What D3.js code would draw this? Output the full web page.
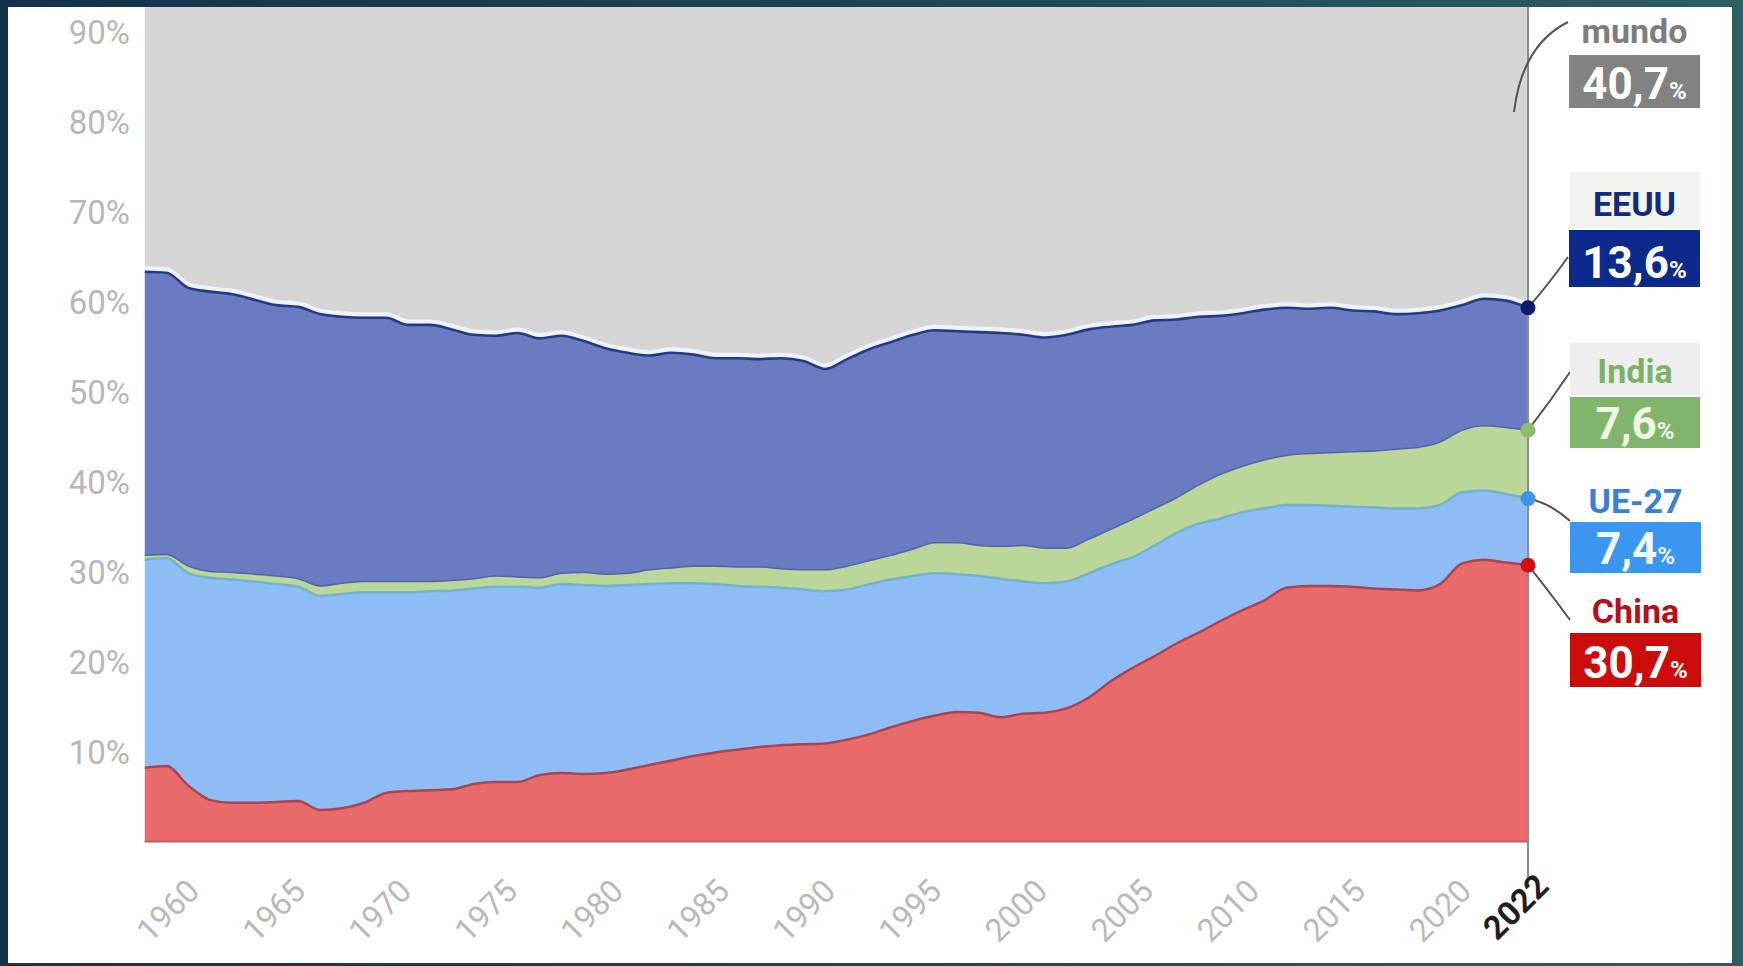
<!DOCTYPE html>
<html><head><meta charset="utf-8">
<script src="https://cdn.jsdelivr.net/npm/d3@7"></script>
<style>html,body{margin:0;padding:0;overflow:hidden;background:#1b4050}</style>
</head><body>
<svg id="c" width="1743" height="966"></svg>
<script>
// ---------- DATA (shares of world CO2 emissions, %) ----------
const years = [1959,1960,1961,1962,1963,1964,1965,1966,1967,1968,
  1969,1970,1971,1972,1973,1974,1975,1976,1977,1978,
  1979,1980,1981,1982,1983,1984,1985,1986,1987,1988,
  1989,1990,1991,1992,1993,1994,1995,1996,1997,1998,
  1999,2000,2001,2002,2003,2004,2005,2006,2007,2008,
  2009,2010,2011,2012,2013,2014,2015,2016,2017,2018,
  2019,2020,2021,2022];
const china = [8.2,8.4,6.2,4.6,4.3,4.3,4.4,4.5,3.5,3.7,
  4.3,5.4,5.6,5.7,5.8,6.4,6.6,6.6,7.4,7.6,
  7.5,7.6,8.0,8.5,9.0,9.5,9.9,10.2,10.5,10.7,
  10.8,10.9,11.3,11.9,12.7,13.4,14.0,14.4,14.3,13.8,
  14.2,14.3,14.8,16.0,17.8,19.3,20.6,22.0,23.2,24.5,
  25.7,26.8,28.2,28.4,28.4,28.3,28.1,28.0,27.9,28.6,
  30.9,31.3,31.0,30.7];
const ue27 = [23.1,23.1,23.6,24.7,24.8,24.6,24.2,23.8,23.8,23.8,
  23.4,22.3,22.1,22.1,22.1,21.7,21.7,21.7,20.8,21.0,
  21.0,20.8,20.5,20.1,19.7,19.2,18.7,18.2,17.8,17.5,
  17.2,16.9,16.7,16.7,16.4,16.1,15.8,15.3,15.2,15.4,
  14.7,14.4,14.1,13.8,13.0,12.3,12.3,12.3,12.1,11.4,
  10.9,10.2,9.2,9.0,8.9,8.9,9.0,9.0,9.1,8.8,
  7.9,7.7,7.6,7.4];
const india = [0.5,0.4,0.8,0.7,0.8,0.8,0.9,0.9,1.1,1.2,
  1.2,1.2,1.2,1.1,1.1,1.1,1.2,1.1,1.1,1.2,
  1.4,1.3,1.3,1.6,1.7,1.9,2.0,2.1,2.2,2.1,
  2.2,2.4,2.6,2.6,2.7,3.0,3.4,3.5,3.4,3.6,
  4.0,3.9,3.7,3.8,3.9,4.2,4.1,3.9,4.3,4.9,
  5.1,5.4,5.5,5.7,5.9,6.1,6.3,6.6,6.8,7.0,
  6.9,7.2,7.4,7.6];
const eeuu = [31.5,31.3,30.9,31.1,30.9,30.5,30.1,30.2,30.2,29.6,
  29.3,29.3,28.5,28.5,27.9,27.1,26.7,27.1,26.6,26.4,
  25.7,25.1,24.5,23.8,23.9,23.5,23.1,23.2,23.1,23.4,
  23.2,22.3,23.0,23.5,23.7,23.8,23.6,23.5,23.7,23.7,
  23.4,23.4,23.7,23.3,22.5,21.6,20.9,19.8,18.7,17.6,
  17.0,16.7,16.4,16.1,16.1,15.7,15.5,15.0,14.9,14.6,
  13.9,14.1,14.1,13.6];
const mundo = [36.7,36.8,38.5,38.9,39.2,39.8,40.4,40.6,41.4,41.7,
  41.8,41.8,42.6,42.6,43.1,43.7,43.8,43.5,44.1,43.8,
  44.4,45.2,45.7,46.0,45.7,45.9,46.3,46.3,46.4,46.3,
  46.6,47.5,46.4,45.3,44.5,43.7,43.2,43.3,43.4,43.5,
  43.7,44.0,43.7,43.1,42.8,42.6,42.1,42.0,41.7,41.6,
  41.3,40.9,40.7,40.8,40.7,41.0,41.1,41.4,41.3,41.0,
  40.4,39.7,39.9,40.7];
const yTicks = [10,20,30,40,50,60,70,80,90];
const xTicks = [1960,1965,1970,1975,1980,1985,1990,1995,2000,2005,2010,2015,2020];
const lastYear = [2022];
const labelNames = ["mundo","EEUU","India","UE-27","China"];
const labelValues = ["40,7","13,6","7,6","7,4","30,7"];

// ---------- LAYOUT / STYLE ----------
const W = 1743, H = 966;
const P = {left:144.5, right:1528, top:7, bottom:841.5};
const keys = ["china","ue27","india","eeuu","mundo"];
const areaFill = {china:"#e96a6a", ue27:"#8dbdf4", india:"#bad698", eeuu:"#6a7bc2", mundo:"#d5d5d5"};
const topLine = {china:{c:"#a94452",w:2.5}, ue27:{c:"#72b3cc",w:2.5}, india:{c:"#5166ad",w:1.6}, eeuu:{c:"#263a83",w:2.6}};
const dotFill = {china:"#d30d10", ue27:"#3d94e6", india:"#8cbd6a", eeuu:"#0b1d6b"};
const labelLayout = [
  {nameColor:"#7d7d7d", nameY:43, bg:null, box:[1569,55,131,53], boxFill:"#828282", valColor:"#ffffff"},
  {nameColor:"#122a80", nameY:216, bg:[1570,172,130,56,"#f3f3ef"], box:[1569,230,131,57], boxFill:"#0c2a8b", valColor:"#ffffff"},
  {nameColor:"#7ab267", nameY:383, bg:[1570,343,130,52,"#eeeeee"], box:[1570,397,130,51], boxFill:"#80b56b", valColor:"#eef8e4"},
  {nameColor:"#3b7fd6", nameY:513, bg:null, box:[1570,522,131,51], boxFill:"#3a96ee", valColor:"#f2f8ff"},
  {nameColor:"#b3111b", nameY:623, bg:null, box:[1570,633,131,54], boxFill:"#cc0b0b", valColor:"#ffffff"}
];

const svg = d3.select("#c");
const defs = svg.append("defs");
const g1 = defs.append("linearGradient").attr("id","frame").attr("x1","0").attr("x2","1").attr("y1","0").attr("y2","0");
g1.append("stop").attr("offset","0").attr("stop-color","#14334a");
g1.append("stop").attr("offset","0.5").attr("stop-color","#1c4555");
g1.append("stop").attr("offset","1").attr("stop-color","#2c5e62");
defs.append("clipPath").attr("id","plot").append("rect")
  .attr("x",P.left).attr("y",P.top).attr("width",P.right-P.left).attr("height",P.bottom-P.top);

svg.append("rect").attr("width",W).attr("height",H).attr("fill","url(#frame)");
svg.append("rect").attr("x",8).attr("y",7).attr("width",1724).attr("height",956).attr("fill","#ffffff");

// data scale
const x = d3.scaleLinear().domain([1959,2022]).range([P.left,P.right]);
// tick-label scale: the reference spaces its year labels slightly tighter than the data
const xLab = d3.scaleLinear().domain([1959,2024.25]).range([P.left,P.right]);
const y = d3.scaleLinear().domain([0,100]).range([P.bottom, P.bottom-900]);

const rows = years.map((yr,i)=>({year:yr, china:china[i], ue27:ue27[i], india:india[i], eeuu:eeuu[i], mundo:mundo[i]}));
const series = d3.stack().keys(keys)(rows);
const curve = d3.curveMonotoneX;
const area = d3.area().x(d=>x(d.data.year)).y0(d=>y(d[0])).y1(d=>y(d[1])).curve(curve);
const topFn = d3.line().x(d=>x(d.data.year)).y(d=>y(d[1])).curve(curve);

const plot = svg.append("g").attr("clip-path","url(#plot)");
plot.selectAll("path.area").data(series).join("path")
  .attr("class","area").attr("d",area).attr("fill",d=>areaFill[d.key]);

// boundary lines
series.filter(s=>s.key!=="mundo").forEach(s=>{
  if(s.key==="eeuu"){
    plot.append("path").attr("d",topFn(s)).attr("fill","none")
      .attr("stroke","#eef2fa").attr("stroke-width",6).attr("transform","translate(0,-2.5)");
  }
  plot.append("path").attr("d",topFn(s)).attr("fill","none")
    .attr("stroke",topLine[s.key].c).attr("stroke-width",topLine[s.key].w);
});
// bottom edge
svg.append("line").attr("x1",P.left).attr("x2",P.right).attr("y1",P.bottom).attr("y2",P.bottom)
  .attr("stroke","#c85c63").attr("stroke-width",2);

// 2022 vertical line
svg.append("line").attr("x1",x(2022)).attr("x2",x(2022)).attr("y1",P.top).attr("y2",878)
  .attr("stroke","#8c8c8c").attr("stroke-width",2);

// Y axis
const yAxis = svg.append("g").attr("transform",`translate(${132},0)`)
  .call(d3.axisLeft(y).tickValues(yTicks).tickFormat(d=>d+"%").tickSize(0).tickPadding(2));
yAxis.select(".domain").remove();
yAxis.selectAll("text").attr("font-family","Roboto, 'Open Sans', sans-serif")
  .attr("font-size",33).attr("fill","#b7b7b7").attr("dy","0.36em");

// X axis
const xAxis = svg.append("g").attr("transform",`translate(0,${885})`)
  .call(d3.axisBottom(xLab).tickValues(xTicks).tickFormat(d3.format("d")).tickSize(0));
xAxis.select(".domain").remove();
xAxis.selectAll("text").attr("font-family","Roboto, 'Open Sans', sans-serif")
  .attr("font-size",32).attr("fill","#b9b9b9")
  .attr("text-anchor","end").attr("x",0).attr("y",0).attr("dy","0.35em")
  .attr("transform","translate(27,0) rotate(-45)");
const xAxis2 = svg.append("g").attr("transform",`translate(0,${880})`)
  .call(d3.axisBottom(x).tickValues(lastYear).tickFormat(d3.format("d")).tickSize(0));
xAxis2.select(".domain").remove();
xAxis2.selectAll("text").attr("font-family","Roboto, 'Open Sans', sans-serif")
  .attr("font-size",33).attr("font-weight",700).attr("fill","#1f1f1f")
  .attr("text-anchor","end").attr("x",0).attr("y",0).attr("dy","0.35em")
  .attr("transform","translate(14,0) rotate(-45)");

// leader lines
const n = years.length-1;
const leaders = [
  [[1514,112],[1522,45],[1568,22]],
  [[x(2022),y(100-mundo[n])],[1548,285],[1568,257]],
  [[x(2022),y(china[n]+ue27[n]+india[n])],[1550,402],[1570,372]],
  [[x(2022),y(china[n]+ue27[n])],[1550,503],[1570,521]],
  [[x(2022),y(china[n])],[1548,590],[1570,620]]
];
leaders.forEach(p=>{
  const pa = d3.path(); pa.moveTo(p[0][0],p[0][1]); pa.quadraticCurveTo(p[1][0],p[1][1],p[2][0],p[2][1]);
  svg.append("path").attr("d",pa.toString()).attr("fill","none").attr("stroke","#555").attr("stroke-width",2);
});

// dots at 2022
series.filter(s=>s.key!=="mundo").forEach(s=>{
  const d = s[s.length-1];
  svg.append("circle").attr("cx",x(d.data.year)).attr("cy",y(d[1])).attr("r",7.5).attr("fill",dotFill[s.key]);
});

// labels
labelLayout.forEach((L,i)=>{
  if(L.bg) svg.append("rect").attr("x",L.bg[0]).attr("y",L.bg[1]).attr("width",L.bg[2]).attr("height",L.bg[3]).attr("fill",L.bg[4]);
  const cx = L.box[0]+L.box[2]/2;
  svg.append("text").attr("x",cx).attr("y",L.nameY).attr("text-anchor","middle")
    .attr("font-family","Roboto, 'Open Sans', sans-serif").attr("font-weight",700)
    .attr("font-size",34).attr("fill",L.nameColor).text(labelNames[i]);
  svg.append("rect").attr("x",L.box[0]).attr("y",L.box[1]).attr("width",L.box[2]).attr("height",L.box[3]).attr("fill",L.boxFill);
  const t = svg.append("text").attr("x",cx).attr("y",L.box[1]+L.box[3]-9).attr("text-anchor","middle")
    .attr("font-family","Roboto, 'Open Sans', sans-serif").attr("font-weight",700).attr("fill",L.valColor);
  t.append("tspan").attr("font-size",44).text(labelValues[i]);
  t.append("tspan").attr("font-size",24).text("%");
});
</script>
</body></html>
